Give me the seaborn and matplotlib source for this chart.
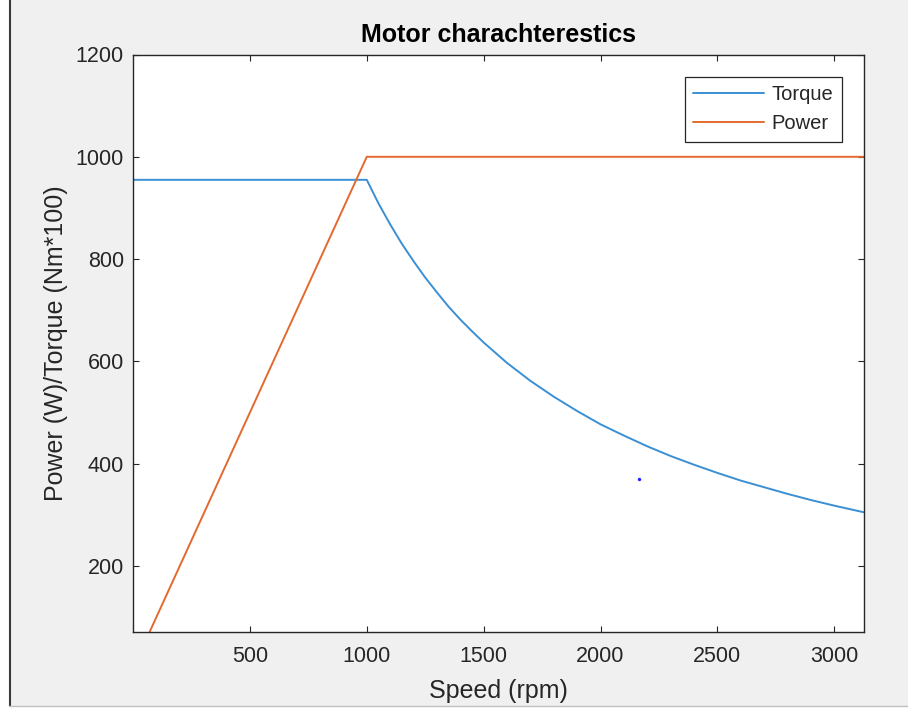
import pandas as pd
import matplotlib.pyplot as plt
from matplotlib.lines import Line2D
from matplotlib.patches import Rectangle
import seaborn as sns

# values
torque_speed = [0, 1000, 1050, 1100, 1150, 1200, 1250, 1300, 1350, 1400, 1450, 1500,
                1600, 1700, 1800, 1900, 2000, 2100, 2200, 2300, 2400, 2500,
                2600, 2700, 2800, 2900, 3000, 3127]
torque = [955, 955, 909, 868, 830, 796, 764, 735, 707, 682, 659, 637,
          597, 562, 531, 503, 477, 455, 434, 415, 398, 382,
          367, 354, 341, 329, 318, 305]

power_speed = [0, 1000, 3127]
power = [0, 1000, 1000]

dot_speed = [2164]
dot_value = [370]

x_ticks = [500, 1000, 1500, 2000, 2500, 3000]
y_ticks = [200, 400, 600, 800, 1000, 1200]

torque_df = pd.DataFrame({'speed': torque_speed, 'value': torque})
power_df = pd.DataFrame({'speed': power_speed, 'value': power})
dot_df = pd.DataFrame({'speed': dot_speed, 'value': dot_value})

sns.set_style("ticks")
plt.rcParams['font.family'] = ['Liberation Sans', 'DejaVu Sans']

dark = '#262626'
fig = plt.figure(figsize=(9.08, 7.09), dpi=100)
fig.patch.set_facecolor('#f0f0f0')
ax = fig.add_axes([133 / 908, 77 / 709, 731 / 908, 577.5 / 709])
ax.set_facecolor('white')

sns.lineplot(data=torque_df, x='speed', y='value', ax=ax, color='#3b8fd3',
             linewidth=1.4, label='Torque', sort=False, estimator=None)
sns.lineplot(data=power_df, x='speed', y='value', ax=ax, color='#e4692f',
             linewidth=1.4, label='Power', sort=False, estimator=None)
sns.scatterplot(data=dot_df, x='speed', y='value', ax=ax, color='#2020ff',
                s=6, linewidth=0, legend=False)

ax.set_xlim(0, 3127)
ax.set_ylim(71, 1200)
ax.set_xticks(x_ticks)
ax.set_yticks(y_ticks)

for side in ['left', 'right', 'top', 'bottom']:
    ax.spines[side].set_visible(True)
    ax.spines[side].set_color(dark)
    ax.spines[side].set_linewidth(1.0)
ax.tick_params(direction='in', length=4.5, width=0.8, color=dark,
               labelcolor=dark, labelsize=15.5, top=True, right=True)
ax.tick_params(axis='x', pad=10)
ax.tick_params(axis='y', pad=6.5)

ax.set_title('Motor charachterestics', fontsize=18, fontweight='bold',
             color='black', pad=9)
ax.set_xlabel('Speed (rpm)', fontsize=18, color=dark, labelpad=9)
ax.set_ylabel('Power (W)/Torque (Nm*100)', fontsize=18, color=dark, labelpad=5.5)

leg = ax.legend(loc='upper right', fontsize=14.5, frameon=True, fancybox=False,
                borderaxespad=1.1, handlelength=3.5, handletextpad=0.4,
                labelspacing=0.5, borderpad=0.42)
leg.get_frame().set_edgecolor(dark)
leg.get_frame().set_linewidth(0.9)
leg.get_frame().set_alpha(1)
for t in leg.get_texts():
    t.set_color(dark)

# window border of the screenshot
fig.add_artist(Rectangle((0, 0), 9 / 908, 1, transform=fig.transFigure,
                         facecolor='white', edgecolor='none'))
fig.add_artist(Rectangle((0, 0), 1, 3 / 709, transform=fig.transFigure,
                         facecolor='white', edgecolor='none'))
fig.add_artist(Line2D([9.5 / 908, 9.5 / 908], [3 / 709, 1], transform=fig.transFigure,
                      color='#3a3a3a', linewidth=1.5))
fig.add_artist(Line2D([9 / 908, 1], [3.5 / 709, 3.5 / 709], transform=fig.transFigure,
                      color='#c0c0c0', linewidth=1))

fig.savefig('out.png', dpi=100, facecolor=fig.get_facecolor())
